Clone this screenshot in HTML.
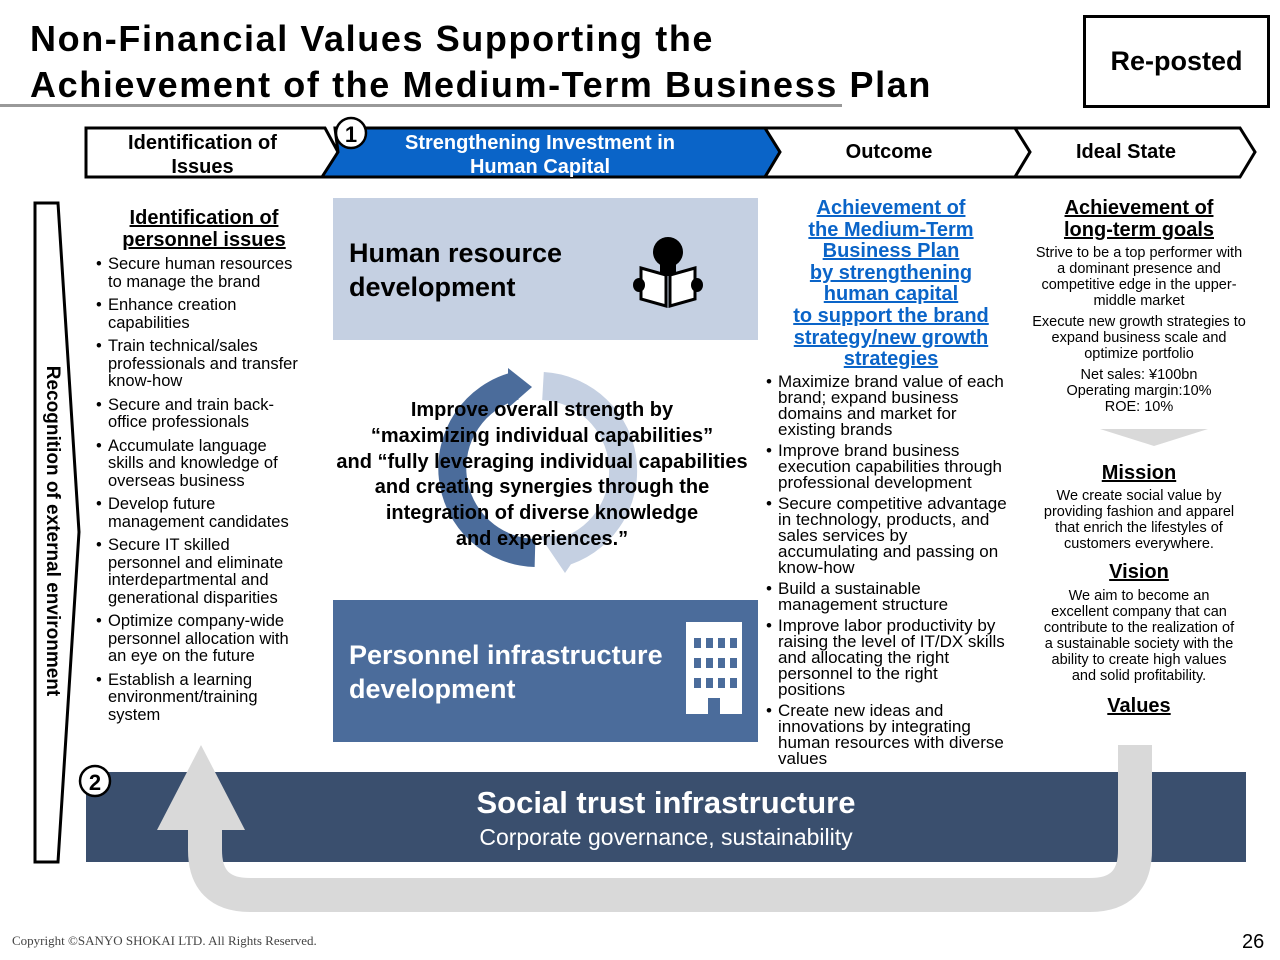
<!DOCTYPE html>
<html><head><meta charset="utf-8"><style>
*{margin:0;padding:0;box-sizing:border-box}
body{width:1280px;height:960px;background:#fff;position:relative;overflow:hidden;font-family:"Liberation Sans",sans-serif;color:#000}
.a{position:absolute}
ul{list-style:none}
li{position:relative;padding-left:14px}
li:before{content:"•";position:absolute;left:2px;top:0}
.u{text-decoration:underline;font-weight:bold}
</style></head><body>
<div class="a" style="left:30px;top:16px;font-size:36px;font-weight:bold;line-height:46px;letter-spacing:1.6px">Non-Financial Values Supporting the<br>Achievement of the Medium-Term Business Plan</div>
<div class="a" style="left:0;top:104px;width:842px;height:3px;background:#999"></div>
<div class="a" style="left:1083px;top:15px;width:187px;height:93px;border:3px solid #000;font-size:27px;font-weight:bold;text-align:center;line-height:87px">Re-posted</div>

<svg class="a" style="left:0;top:0" width="1280" height="960">
<polygon points="86,128 325,128 338,152 325,177 86,177" fill="#fff" stroke="#000" stroke-width="3"/>
<polygon points="335,128 765,128 780,152 765,177 322,177 338,152" fill="#0a64c8" stroke="#000" stroke-width="3"/>
<polygon points="765,128 1015,128 1030,152 1015,177 765,177 780,152" fill="#fff" stroke="#000" stroke-width="3"/>
<polygon points="1015,128 1240,128 1255,152 1240,177 1015,177 1030,152" fill="#fff" stroke="#000" stroke-width="3"/>
<circle cx="351" cy="133" r="15" fill="#fff" stroke="#000" stroke-width="2.5"/>
<text x="351" y="142" font-size="22" font-weight="bold" text-anchor="middle" font-family="Liberation Sans">1</text>
<polygon points="35,203 58,203 79,532 58,862 35,862" fill="#fff" stroke="#000" stroke-width="3"/>
<rect x="333" y="198" width="425" height="142" fill="#c5d0e2"/>
<rect x="333" y="600" width="425" height="142" fill="#4b6c9b"/>
<path d="M543,386 A85,85 0 0 1 560,553" fill="none" stroke="#c5d0e2" stroke-width="28"/>
<polygon points="540,536 590,536 565,573" fill="#c5d0e2"/>
<path d="M535,553 A85,85 0 0 1 515,386" fill="none" stroke="#4b6c9b" stroke-width="28"/>
<polygon points="508,368 532,387 508,408" fill="#4b6c9b"/>
<circle cx="668" cy="252" r="15" fill="#000"/>
<rect x="660" y="262" width="16" height="14" fill="#000"/>
<path d="M641,268 L666,275 L666,306 L641,299 Z M695,268 L670,275 L670,306 L695,299 Z" fill="#fff" stroke="#000" stroke-width="3"/>
<ellipse cx="639" cy="285" rx="6" ry="7" fill="#000"/><ellipse cx="697" cy="285" rx="6" ry="7" fill="#000"/>
<rect x="686" y="622" width="56" height="92" fill="#fff"/>
<g fill="#4b6c9b">
<rect x="694" y="638" width="7" height="10"/><rect x="706" y="638" width="7" height="10"/><rect x="718" y="638" width="7" height="10"/><rect x="730" y="638" width="7" height="10"/>
<rect x="694" y="658" width="7" height="10"/><rect x="706" y="658" width="7" height="10"/><rect x="718" y="658" width="7" height="10"/><rect x="730" y="658" width="7" height="10"/>
<rect x="694" y="678" width="7" height="10"/><rect x="706" y="678" width="7" height="10"/><rect x="718" y="678" width="7" height="10"/><rect x="730" y="678" width="7" height="10"/>
<rect x="708" y="698" width="12" height="16"/></g>
<polygon points="1100,429 1208,429 1154,446" fill="#d9d9d9"/>
<rect x="86" y="772" width="1160" height="90" fill="#3a4f6e"/>
<path d="M1135,745 L1135,850 Q1135,895 1090,895 L250,895 Q205,895 205,850 L205,820" fill="none" stroke="#d9d9d9" stroke-width="34"/>
<polygon points="157,830 245,830 201,745" fill="#d9d9d9"/>
<circle cx="95" cy="781" r="15" fill="#fff" stroke="#000" stroke-width="2.5"/>
<text x="95" y="790" font-size="22" font-weight="bold" text-anchor="middle" font-family="Liberation Sans">2</text>
</svg>

<div class="a" style="left:100px;top:131px;width:205px;text-align:center;font-size:20px;font-weight:bold;line-height:24px">Identification of<br>Issues</div>
<div class="a" style="left:350px;top:131px;width:380px;text-align:center;font-size:20px;font-weight:bold;line-height:24px;color:#fff">Strengthening Investment in<br>Human Capital</div>
<div class="a" style="left:780px;top:141px;width:218px;text-align:center;font-size:20px;font-weight:bold">Outcome</div>
<div class="a" style="left:1020px;top:141px;width:212px;text-align:center;font-size:20px;font-weight:bold">Ideal State</div>

<div class="a" style="left:38px;top:532px;width:0;height:0"><div style="position:absolute;left:-180px;top:-12px;width:360px;text-align:center;transform:translateX(14px) rotate(90deg);font-size:19px;font-weight:bold;white-space:nowrap">Recognition of external environment</div></div>

<div class="a u" style="left:96px;top:207px;width:216px;text-align:center;font-size:20px;line-height:22px">Identification of<br>personnel issues</div>
<ul class="a" style="left:94px;top:256px;width:212px;font-size:16.5px;line-height:17.5px">
<li>Secure human resources to manage the brand</li>
<li style="margin-top:6px">Enhance creation capabilities</li>
<li style="margin-top:6px">Train technical/sales professionals and transfer know-how</li>
<li style="margin-top:6px">Secure and train back-office professionals</li>
<li style="margin-top:6px">Accumulate language skills and knowledge of overseas business</li>
<li style="margin-top:6px">Develop future management candidates</li>
<li style="margin-top:6px">Secure IT skilled personnel and eliminate interdepartmental and generational disparities</li>
<li style="margin-top:6px">Optimize company-wide personnel allocation with an eye on the future</li>
<li style="margin-top:6px">Establish a learning environment/training system</li>
</ul>

<div class="a" style="left:349px;top:236px;font-size:27px;font-weight:bold;line-height:34px">Human resource<br>development</div>
<div class="a" style="left:349px;top:638px;font-size:27px;font-weight:bold;line-height:34px;color:#fff">Personnel infrastructure<br>development</div>
<div class="a" style="left:316px;top:398px;width:452px;text-align:center;font-size:20px;font-weight:bold;line-height:25.8px">Improve overall strength by<br>“maximizing individual capabilities”<br>and “fully leveraging individual capabilities<br>and creating synergies through the<br>integration of diverse knowledge<br>and experiences.”</div>

<div class="a u" style="left:772px;top:198px;width:238px;text-align:center;font-size:20px;line-height:21.6px;color:#0a64c8">Achievement of<br>the Medium-Term<br>Business Plan<br>by strengthening<br>human capital<br>to support the brand<br>strategy/new growth<br>strategies</div>
<ul class="a" style="left:764px;top:374px;width:262px;font-size:17px;line-height:16px;white-space:nowrap">
<li>Maximize brand value of each<br>brand; expand business<br>domains and market for<br>existing brands</li>
<li style="margin-top:5px">Improve brand business<br>execution capabilities through<br>professional development</li>
<li style="margin-top:5px">Secure competitive advantage<br>in technology, products, and<br>sales services by<br>accumulating and passing on<br>know-how</li>
<li style="margin-top:5px">Build a sustainable<br>management structure</li>
<li style="margin-top:5px">Improve labor productivity by<br>raising the level of IT/DX skills<br>and allocating the right<br>personnel to the right<br>positions</li>
<li style="margin-top:5px">Create new ideas and<br>innovations by integrating<br>human resources with diverse<br>values</li>
</ul>

<div class="a" style="left:1030px;top:198px;width:218px;text-align:center;font-size:14.5px;line-height:16px">
<div class="u" style="font-size:20px;line-height:21.5px">Achievement of<br>long-term goals</div>
<div style="margin-top:4px">Strive to be a top performer with a dominant presence and competitive edge in the upper-middle market</div>
<div style="margin-top:5px">Execute new growth strategies to expand business scale and optimize portfolio</div>
<div style="margin-top:5px">Net sales: ¥100bn<br>Operating margin:10%<br>ROE: 10%</div>
</div>
<div class="a" style="left:1030px;top:461px;width:218px;text-align:center;font-size:14.5px;line-height:16px">
<div class="u" style="font-size:20px;line-height:24px">Mission</div>
<div style="margin-top:3px">We create social value by providing fashion and apparel that enrich the lifestyles of customers everywhere.</div>
<div class="u" style="font-size:20px;line-height:24px;margin-top:8px">Vision</div>
<div style="margin:4px auto 0;width:218px">We aim to become an<br>excellent company that can<br>contribute to the realization of<br>a sustainable society with the<br>ability to create high values<br>and solid profitability.</div>
<div class="u" style="font-size:20px;line-height:24px;margin-top:10px">Values</div>
</div>

<div class="a" style="left:86px;top:785px;width:1160px;text-align:center;color:#fff;font-size:31px;font-weight:bold">Social trust infrastructure</div>
<div class="a" style="left:86px;top:824px;width:1160px;text-align:center;color:#fff;font-size:23px">Corporate governance, sustainability</div>

<div class="a" style="left:12px;top:933px;font-family:'Liberation Serif',serif;font-size:13px;color:#444">Copyright ©SANYO SHOKAI LTD. All Rights Reserved.</div>
<div class="a" style="left:1242px;top:931px;font-size:20px">26</div>
</body></html>
